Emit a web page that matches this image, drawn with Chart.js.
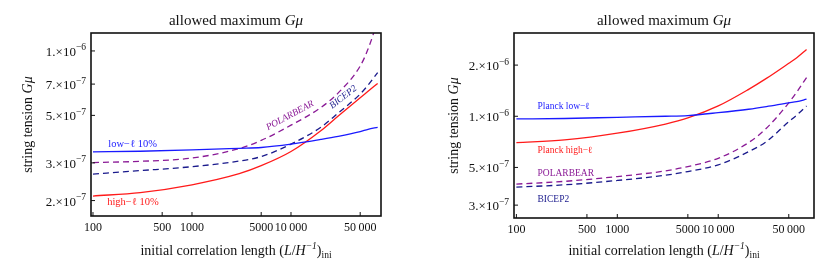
<!DOCTYPE html>
<html>
<head>
<meta charset="utf-8">
<script src="https://cdn.jsdelivr.net/npm/chart.js@4"></script>
<style>
  body { margin: 0; background: #fff; }
  .panel { position: absolute; top: 0; width: 415px; height: 272px; }
</style>
</head>
<body>
<div class="panel" style="left:0"><canvas id="left" width="415" height="272"></canvas></div>
<div class="panel" style="left:415px"><canvas id="right" width="415" height="272"></canvas></div>
<script>
// initial correlation length (L/H^-1)_ini
const lengths = [100, 300, 1000, 3000, 5000, 10000, 20000, 30000, 50000, 60000, 75000];

// left panel: 10% bounds
const lowEll10   = [3.38e-7, 3.40e-7, 3.45e-7, 3.51e-7, 3.54e-7, 3.67e-7, 3.86e-7, 3.99e-7, 4.20e-7, 4.30e-7, 4.40e-7];
const highEll10  = [2.10e-7, 2.18e-7, 2.37e-7, 2.67e-7, 2.91e-7, 3.39e-7, 4.24e-7, 4.97e-7, 6.05e-7, 6.48e-7, 7.05e-7];
const polarbearL = [3.01e-7, 3.05e-7, 3.16e-7, 3.50e-7, 3.82e-7, 4.50e-7, 5.44e-7, 6.37e-7, 8.50e-7, 1.02e-6, 1.38e-6];
const bicep2L    = [2.66e-7, 2.76e-7, 2.88e-7, 3.06e-7, 3.21e-7, 3.67e-7, 4.40e-7, 5.13e-7, 6.29e-7, 6.92e-7, 7.92e-7];

// right panel: Planck / BICEP2 / POLARBEAR
const planckLow  = [9.64e-7, 9.70e-7, 9.86e-7, 1.00e-6, 1.01e-6, 1.05e-6, 1.10e-6, 1.14e-6, 1.20e-6, 1.22e-6, 1.26e-6];
const planckHigh = [7.00e-7, 7.26e-7, 7.95e-7, 9.00e-7, 9.77e-7, 1.15e-6, 1.44e-6, 1.67e-6, 2.05e-6, 2.21e-6, 2.47e-6];
const polarbearR = [3.99e-7, 4.14e-7, 4.42e-7, 4.77e-7, 5.06e-7, 5.66e-7, 7.00e-7, 8.50e-7, 1.20e-6, 1.39e-6, 1.69e-6];
const bicep2R    = [3.83e-7, 3.95e-7, 4.19e-7, 4.50e-7, 4.73e-7, 5.18e-7, 6.19e-7, 7.10e-7, 9.29e-7, 1.016e-6, 1.15e-6];

// ticks
const xTicks = [100, 500, 1000, 5000, 10000, 50000];
const xTickLabels = ['100', '500', '1000', '5000', '10\u2009000', '50\u2009000'];
const yTicksL = [2e-7, 3e-7, 5e-7, 7e-7, 1e-6];
const yTickLabelsL = [['2.', '\u22127'], ['3.', '\u22127'], ['5.', '\u22127'], ['7.', '\u22127'], ['1.', '\u22126']];
const yTicksR = [3e-7, 5e-7, 1e-6, 2e-6];
const yTickLabelsR = [['3.', '\u22127'], ['5.', '\u22127'], ['1.', '\u22126'], ['2.', '\u22126']];

const RED = '#ff1a1a', BLUE = '#1a1aff', PURPLE = '#8a1a96', NAVY = '#1a1a8c';
const SERIF = '"Liberation Serif", "DejaVu Serif", serif';

function fontOf(p) {
    return (p.italic ? 'italic ' : '') + (p.size || 13) + 'px ' + SERIF;
}

// draw a run of text pieces (sizes / italics / raised parts)
function drawRich(ctx, parts, x, y, align) {
    let w = 0;
    parts.forEach(p => { ctx.font = fontOf(p); w += ctx.measureText(p.t).width; });
    let cx = align === 'center' ? x - w / 2 : (align === 'right' ? x - w : x);
    parts.forEach(p => {
        ctx.font = fontOf(p);
        ctx.fillText(p.t, cx, y + (p.dy || 0));
        cx += ctx.measureText(p.t).width;
    });
}

function framePlugin(cfg) {
    return {
        id: 'frame',
        afterDraw(chart) {
            const ctx = chart.ctx;
            const a = chart.chartArea;
            const xs = chart.scales.x, ys = chart.scales.y;
            ctx.save();
            ctx.fillStyle = '#111';
            ctx.strokeStyle = '#111';

            // box
            ctx.lineWidth = 1.6;
            ctx.strokeRect(a.left, a.top, a.right - a.left, a.bottom - a.top);

            // inward ticks
            ctx.lineWidth = 1;
            xTicks.forEach((v, i) => {
                const px = xs.getPixelForValue(v);
                ctx.beginPath();
                ctx.moveTo(px, a.bottom);
                ctx.lineTo(px, a.bottom - 4);
                ctx.stroke();
                drawRich(ctx, [{ t: xTickLabels[i], size: 12 }], px, a.bottom + 15, 'center');
            });
            cfg.yTicks.forEach((v, i) => {
                const py = ys.getPixelForValue(v);
                ctx.beginPath();
                ctx.moveTo(a.left, py);
                ctx.lineTo(a.left + 4, py);
                ctx.stroke();
                const lab = cfg.yTickLabels[i];
                drawRich(ctx, [
                    { t: lab[0] + '\u00d710', size: 13 },
                    { t: lab[1], size: 9.5, dy: -5.5 }
                ], a.left - 5, py + 5, 'right');
            });

            // title
            const cxm = (a.left + a.right) / 2;
            drawRich(ctx, [
                { t: 'allowed maximum ', size: 15 },
                { t: 'G\u03bc', size: 15, italic: true }
            ], cxm, 25, 'center');

            // x axis title
            drawRich(ctx, [
                { t: 'initial correlation length (', size: 14 },
                { t: 'L', size: 14, italic: true },
                { t: '/', size: 14 },
                { t: 'H', size: 14, italic: true },
                { t: '\u22121', size: 9.5, italic: true, dy: -6 },
                { t: ')', size: 14 },
                { t: 'ini', size: 9.5, dy: 3 }
            ], cxm, 255, 'center');

            // y axis title
            ctx.save();
            ctx.translate(cfg.yTitleX, (a.top + a.bottom) / 2);
            ctx.rotate(-Math.PI / 2);
            drawRich(ctx, [
                { t: 'string tension ', size: 14 },
                { t: 'G\u03bc', size: 14, italic: true }
            ], 0, 0, 'center');
            ctx.restore();

            // curve labels, anchored in data space
            cfg.notes.forEach(n => {
                const px = xs.getPixelForValue(n.x);
                const py = ys.getPixelForValue(n.y);
                ctx.save();
                ctx.fillStyle = n.color;
                ctx.translate(px, py);
                ctx.rotate((n.angle || 0) * Math.PI / 180);
                ctx.textBaseline = 'middle';
                drawRich(ctx, [{ t: n.text, size: n.size || 10.5, italic: n.italic }], 0, 0, n.align || 'left');
                ctx.restore();
            });
            ctx.restore();
        }
    };
}

function makeChart(id, cfg) {
    return new Chart(document.getElementById(id), {
        type: 'line',
        data: {
            datasets: cfg.series.map(s => ({
                data: lengths.map((x, i) => ({ x: x, y: s.values[i] })),
                borderColor: s.color,
                borderWidth: 1.3,
                borderDash: s.dash ? [6, 4] : [],
                pointRadius: 0,
                cubicInterpolationMode: 'monotone',
                fill: false
            }))
        },
        options: {
            responsive: false,
            animation: false,
            devicePixelRatio: 1,
            layout: { padding: cfg.padding },
            plugins: { legend: { display: false }, tooltip: { enabled: false } },
            scales: {
                x: { type: 'logarithmic', display: false, min: cfg.xMin, max: cfg.xMax },
                y: { type: 'logarithmic', display: false, min: cfg.yMin, max: cfg.yMax }
            }
        },
        plugins: [framePlugin(cfg)]
    });
}

makeChart('left', {
    padding: { left: 91, right: 34, top: 33, bottom: 56 },
    xMin: 95.5, xMax: 81100, yMin: 1.694e-7, yMax: 1.213e-6,
    yTicks: yTicksL, yTickLabels: yTickLabelsL, yTitleX: 32,
    series: [
        { values: lowEll10, color: BLUE },
        { values: highEll10, color: RED },
        { values: polarbearL, color: PURPLE, dash: true },
        { values: bicep2L, color: NAVY, dash: true }
    ],
    notes: [
        { text: 'low\u2212\u2113 10%', x: 143, y: 3.67e-7, color: BLUE },
        { text: 'high\u2212\u2113 10%', x: 139, y: 1.97e-7, color: RED },
        { text: 'POLARBEAR', x: 9770, y: 4.99e-7, color: PURPLE, italic: true, angle: -28, align: 'center', size: 9.5 },
        { text: 'BICEP2', x: 33700, y: 6.08e-7, color: NAVY, italic: true, angle: -38, align: 'center', size: 9.5 }
    ]
});

makeChart('right', {
    padding: { left: 99, right: 16, top: 33, bottom: 54 },
    xMin: 94.7, xMax: 88900, yMin: 2.52e-7, yMax: 3.09e-6,
    yTicks: yTicksR, yTickLabels: yTickLabelsR, yTitleX: 43,
    series: [
        { values: planckLow, color: BLUE },
        { values: planckHigh, color: RED },
        { values: polarbearR, color: PURPLE, dash: true },
        { values: bicep2R, color: NAVY, dash: true }
    ],
    notes: [
        { text: 'Planck low\u2212\u2113', x: 162, y: 1.14e-6, color: BLUE, size: 9.5 },
        { text: 'Planck high\u2212\u2113', x: 162, y: 6.28e-7, color: RED, size: 9.5 },
        { text: 'POLARBEAR', x: 162, y: 4.63e-7, color: PURPLE, size: 9.5 },
        { text: 'BICEP2', x: 162, y: 3.23e-7, color: NAVY, size: 9.5 }
    ]
});
</script>
</body>
</html>
